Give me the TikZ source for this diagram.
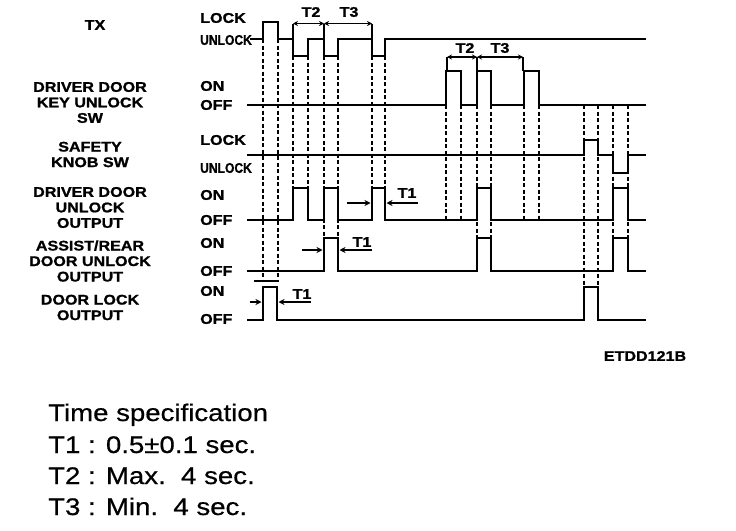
\documentclass[tikz,border=0pt]{standalone}
\usepackage{fontspec}
\usepackage{graphicx}
\setmainfont{Liberation Sans}
\newfontfamily\lblfont[FakeStretch=1.15,FakeBold=1.2]{Liberation Sans}
\newfontfamily\specfontf[FakeStretch=1.15,FakeBold=0.6]{Liberation Sans}
\usetikzlibrary{arrows.meta}
\begin{document}
\begin{tikzpicture}[x=1pt,y=-1pt,
  wave/.style={line width=2.8pt},
  guide/.style={line width=2pt,dash pattern=on 4pt off 2.5pt},
  lbl/.style={font=\lblfont\bfseries\fontsize{14}{15.5}\selectfont,align=center,inner sep=0pt},
  lvl/.style={font=\lblfont\bfseries\fontsize{14}{15}\selectfont,anchor=west,inner sep=0pt},
  tlab/.style={font=\lblfont\bfseries\fontsize{14}{15}\selectfont,inner sep=0pt},
  brk/.style={line width=1.8pt},
  dimarr/.style={line width=1.8pt,{Stealth[length=5pt,width=5pt]}-{Stealth[length=5pt,width=5pt]}},
  tarr/.style={line width=1.8pt,-{Stealth[length=6pt,width=6pt]}},
  spec/.style={font=\specfontf\fontsize{24}{30}\selectfont,anchor=base west,inner sep=0pt}
]
\useasboundingbox (0,0) rectangle (736,530);

% left signal names
\node[lbl] (ntx) at (95,25) {TX};
\node[lbl] (nkey) at (90,102.5) {DRIVER DOOR\\KEY UNLOCK\\SW};
\node[lbl] (nknob) at (90,154.5) {SAFETY\\KNOB SW};
\node[lbl] (ndd) at (90,207.5) {DRIVER DOOR\\UNLOCK\\OUTPUT};
\node[lbl] (nar) at (90,261) {ASSIST/REAR\\DOOR UNLOCK\\OUTPUT};
\node[lbl] (ndl) at (90,307.5) {DOOR LOCK\\OUTPUT};

% level labels
\node[lvl] (l1a) at (200,18) {LOCK};
\node[lvl] (l1b) at (200,40) {\scalebox{0.75}[1]{UNLOCK}};
\node[lvl] (l2a) at (200,86) {ON};
\node[lvl] (l2b) at (200,105) {OFF};
\node[lvl] (l3a) at (200,140) {LOCK};
\node[lvl] (l3b) at (200,168) {\scalebox{0.75}[1]{UNLOCK}};
\node[lvl] (l4a) at (200,195) {ON};
\node[lvl] (l4b) at (200,220) {OFF};
\node[lvl] (l5a) at (200,243) {ON};
\node[lvl] (l5b) at (200,271) {OFF};
\node[lvl] (l6a) at (200,291) {ON};
\node[lvl] (l6b) at (200,319) {OFF};

% dashed guides
\foreach \x in {263,278} \draw[guide] (\x,39) -- (\x,281);
\foreach \x in {293,308,372,385} \draw[guide] (\x,56) -- (\x,188);
\foreach \x in {324,338} \draw[guide] (\x,56) -- (\x,238);
\foreach \x in {446,461,524,539} \draw[guide] (\x,105) -- (\x,220);
\foreach \x in {477,491,613,628} \draw[guide] (\x,105) -- (\x,238);
\foreach \x in {584,598} \draw[guide] (\x,105) -- (\x,287);

% waveforms
\draw[wave] (250,39) -- (263,39) -- (263,22) -- (278,22) -- (278,39) -- (293,39)
  -- (293,56) -- (308,56) -- (308,39) -- (324,39) -- (324,56) -- (338,56) -- (338,39)
  -- (372,39) -- (372,56) -- (385,56) -- (385,39) -- (646,39);
\draw[wave] (247,105) -- (446,105) -- (446,71) -- (461,71) -- (461,105) -- (477,105)
  -- (477,71) -- (491,71) -- (491,105) -- (524,105) -- (524,71) -- (539,71) -- (539,105) -- (646,105);
\draw[wave] (247,155) -- (584,155) -- (584,140) -- (598,140) -- (598,155) -- (613,155)
  -- (613,173) -- (628,173) -- (628,155) -- (646,155);
\draw[wave] (247,220) -- (293,220) -- (293,188) -- (308,188) -- (308,220) -- (324,220)
  -- (324,188) -- (338,188) -- (338,220) -- (372,220) -- (372,188) -- (385,188) -- (385,220)
  -- (477,220) -- (477,188) -- (491,188) -- (491,220) -- (613,220) -- (613,188) -- (628,188)
  -- (628,220) -- (646,220);
\draw[wave] (247,271) -- (324,271) -- (324,238) -- (338,238) -- (338,271) -- (477,271)
  -- (477,238) -- (491,238) -- (491,271) -- (613,271) -- (613,238) -- (628,238) -- (628,271) -- (646,271);
\draw[wave] (247,320) -- (263,320) -- (263,287) -- (277,287) -- (277,320) -- (584,320)
  -- (584,287) -- (598,287) -- (598,320) -- (646,320);

% T2/T3 brackets
\coordinate (b1a) at (293,23.5); \coordinate (b1b) at (324,23.5); \coordinate (b1c) at (372,23.5);
\draw[brk] (b1a) -- (293,39); \draw[brk] (b1b) -- (324,39); \draw[brk] (b1c) -- (372,39);
\draw[dimarr] (b1a) -- (b1b); \draw[dimarr] (b1b) -- (b1c);
\node[tlab] (t2a) at (311,12) {T2};
\node[tlab] (t3a) at (349,12) {T3};
\coordinate (b2a) at (447,57); \coordinate (b2b) at (477,57); \coordinate (b2c) at (523,57);
\draw[brk] (b2a) -- (447,71); \draw[brk] (b2b) -- (477,71); \draw[brk] (b2c) -- (523,71);
\draw[dimarr] (b2a) -- (b2b); \draw[dimarr] (b2b) -- (b2c);
\node[tlab] (t2b) at (465,48) {T2};
\node[tlab] (t3b) at (500,48) {T3};

% T1 markers
\coordinate (a4l) at (347,203); \coordinate (a4le) at (370.5,203);
\coordinate (a4r) at (418,203); \coordinate (a4re) at (386.5,203);
\draw[tarr] (a4l) -- (a4le); \draw[tarr] (a4r) -- (a4re);
\node[tlab] (t1d) at (407,193) {T1};
\coordinate (a5l) at (302,250); \coordinate (a5le) at (322.5,250);
\coordinate (a5r) at (372,250); \coordinate (a5re) at (339.5,250);
\draw[tarr] (a5l) -- (a5le); \draw[tarr] (a5r) -- (a5re);
\node[tlab] (t1e) at (362,242) {T1};
\coordinate (a6l) at (250,302); \coordinate (a6le) at (261.5,302);
\coordinate (a6r) at (311,302); \coordinate (a6re) at (278.5,302);
\draw[tarr] (a6l) -- (a6le); \draw[tarr] (a6r) -- (a6re);
\node[tlab] (t1f) at (302,294) {T1};
\coordinate (bar1) at (254,281); \coordinate (bar2) at (279,281);
\draw[brk] (bar1) -- (bar2);

% figure code
\node[tlab] (code) at (645,356) {ETDD121B};

% specification
\node[spec] (s0) at (48,421) {Time specification};
\node[spec] (s1) at (48,453) {T1 : 0.5±0.1 sec.};
\node[spec] (s2) at (48,484) {T2 : Max.\ \ 4 sec.};
\node[spec] (s3) at (48,515) {T3 : Min.\ \ 4 sec.};
\end{tikzpicture}
\end{document}
